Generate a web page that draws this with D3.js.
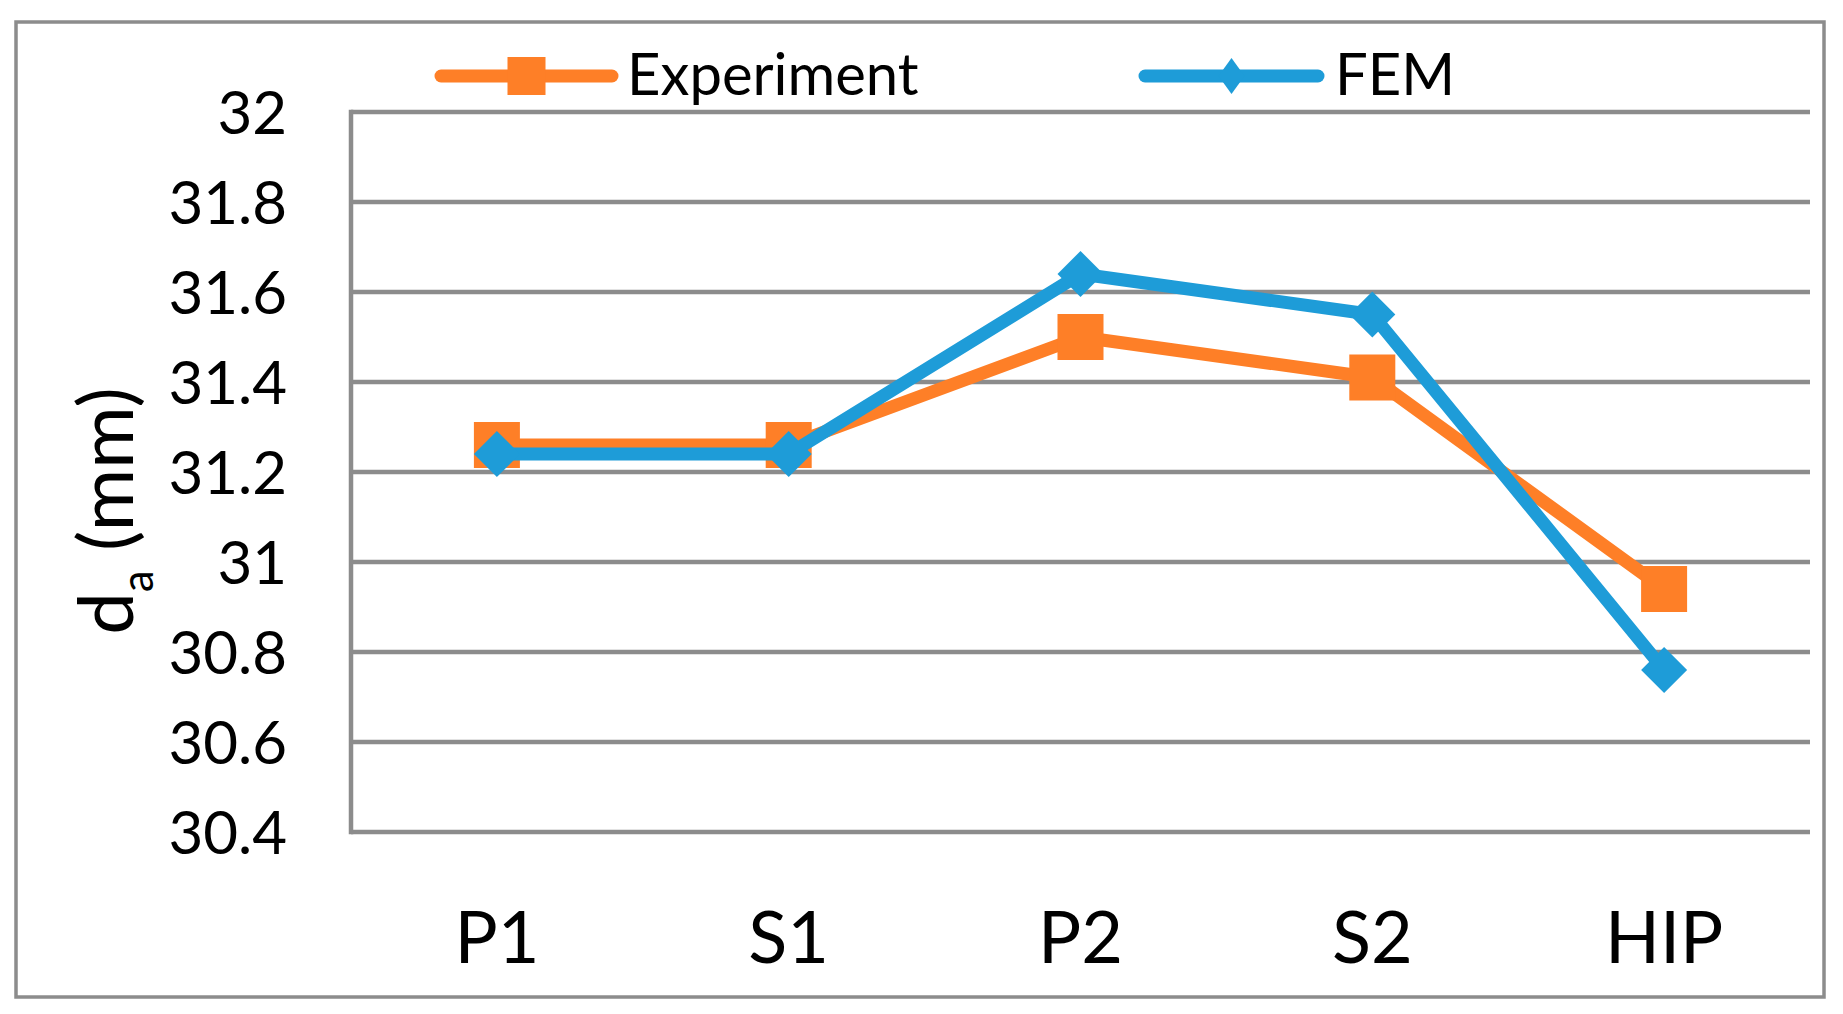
<!DOCTYPE html>
<html>
<head>
<meta charset="utf-8">
<script src="https://cdn.jsdelivr.net/npm/d3@7"></script>
<style>
  html, body { margin: 0; padding: 0; background: #ffffff; }
  svg { display: block; }
  text { font-family: Lato, "Open Sans", sans-serif; fill: #000; }
</style>
</head>
<body>
<svg id="chart" width="1843" height="1014"></svg>
<script>
// ---- data ----
const categories = ["P1", "S1", "P2", "S2", "HIP"];
const experiment = [31.26, 31.26, 31.50, 31.41, 30.94];
const fem = [31.24, 31.24, 31.64, 31.55, 30.76];
const yTicks = [30.4, 30.6, 30.8, 31, 31.2, 31.4, 31.6, 31.8, 32];
const seriesNames = ["Experiment", "FEM"];
const yTitleMain = "d";
const yTitleSub = "a";
const yTitleRest = " (mm)";

// ---- layout ----
const W = 1843, H = 1014;
const plot = { left: 351, right: 1810, top: 112, bottom: 832 };
const grey = "#8c8c8c";
const orange = "#fe7f27";
const blue = "#1e9cd8";

const svg = d3.select("#chart");

// outer border
svg.append("rect")
  .attr("x", 16).attr("y", 22)
  .attr("width", 1824 - 16).attr("height", 997 - 22)
  .attr("fill", "#fff").attr("stroke", grey).attr("stroke-width", 3.5);

const x = d3.scaleBand().domain(categories).range([plot.left, plot.right]).padding(0);
const y = d3.scaleLinear().domain([30.4, 32]).range([plot.bottom, plot.top]);

// gridlines
svg.append("g").selectAll("line").data(yTicks).join("line")
  .attr("x1", plot.left).attr("x2", plot.right)
  .attr("y1", d => y(d)).attr("y2", d => y(d))
  .attr("stroke", grey).attr("stroke-width", 4.5);

// left axis line
svg.append("line")
  .attr("x1", plot.left).attr("x2", plot.left)
  .attr("y1", plot.top - 2.25).attr("y2", plot.bottom + 2.25)
  .attr("stroke", grey).attr("stroke-width", 4.5);

// y tick labels
const tickFont = 60;
svg.append("g").selectAll("text").data(yTicks).join("text")
  .attr("x", 287).attr("y", d => y(d) + tickFont * 0.36)
  .attr("text-anchor", "end")
  .style("font-size", tickFont + "px")
  .text(d => d3.format("")(+d.toFixed(1)));

// x category labels
svg.append("g").selectAll("text").data(categories).join("text")
  .attr("x", d => x(d) + x.bandwidth() / 2).attr("y", 963)
  .attr("text-anchor", "middle")
  .style("font-size", "72px")
  .text(d => d);

// y axis title
const yt = svg.append("text")
  .attr("transform", "translate(133,511) rotate(-90)")
  .attr("text-anchor", "middle")
  .style("font-size", "76px");
yt.append("tspan").text(yTitleMain);
yt.append("tspan").attr("dy", 20).style("font-size", "44px").text(yTitleSub);
yt.append("tspan").attr("dy", -20).text(yTitleRest);

// lines
const line = d3.line()
  .x((d, i) => x(categories[i]) + x.bandwidth() / 2)
  .y(d => y(d));

const ms = 46;
function drawSeries(vals, color, marker) {
  svg.append("path").datum(vals)
    .attr("d", line)
    .attr("fill", "none").attr("stroke", color)
    .attr("stroke-width", 13).attr("stroke-linejoin", "round").attr("stroke-linecap", "round");
  const g = svg.append("g");
  vals.forEach((v, i) => {
    const cx = x(categories[i]) + x.bandwidth() / 2, cy = y(v);
    if (marker === "square") {
      g.append("rect").attr("x", cx - ms / 2).attr("y", cy - ms / 2)
        .attr("width", ms).attr("height", ms).attr("fill", color);
    } else {
      const h = ms / 2;
      g.append("path").attr("d", `M${cx},${cy - h}L${cx + h},${cy}L${cx},${cy + h}L${cx - h},${cy}Z`)
        .attr("fill", color);
    }
  });
}
drawSeries(experiment, orange, "square");
drawSeries(fem, blue, "diamond");

// legend
const legend = [
  { name: seriesNames[0], color: orange, marker: "square", x1: 441, x2: 612, tx: 627 },
  { name: seriesNames[1], color: blue, marker: "diamond", x1: 1145, x2: 1318, tx: 1335 }
];
const ly = 76;
legend.forEach(l => {
  svg.append("line").attr("x1", l.x1).attr("x2", l.x2).attr("y1", ly).attr("y2", ly)
    .attr("stroke", l.color).attr("stroke-width", 13).attr("stroke-linecap", "round");
  const cx = (l.x1 + l.x2) / 2;
  if (l.marker === "square") {
    svg.append("rect").attr("x", cx - 19).attr("y", ly - 19).attr("width", 38).attr("height", 38).attr("fill", l.color);
  } else {
    svg.append("path").attr("d", `M${cx},${ly - 18}L${cx + 13},${ly}L${cx},${ly + 18}L${cx - 13},${ly}Z`).attr("fill", l.color);
  }
  svg.append("text").attr("x", l.tx).attr("y", 95).style("font-size", "58px").text(l.name);
});
</script>
</body>
</html>
